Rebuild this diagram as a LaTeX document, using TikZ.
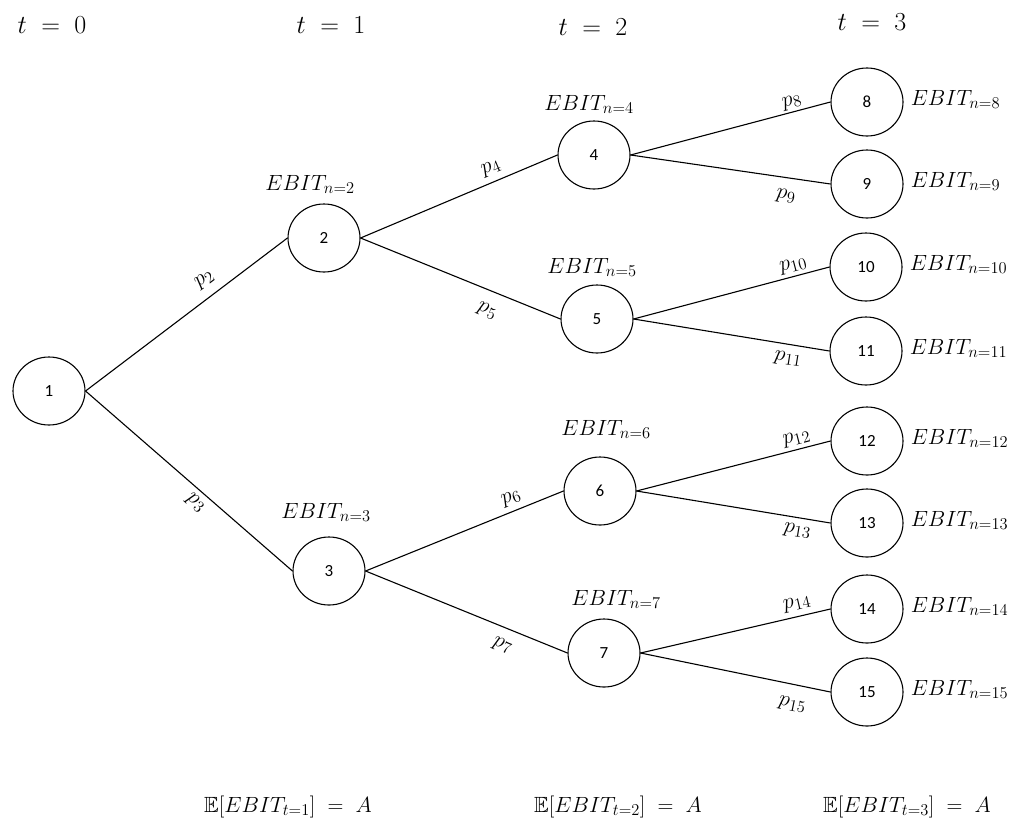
\RequirePackage{fix-cm}
\documentclass[tikz,border=0pt]{standalone}
\usepackage{amssymb}
\usepackage{fontspec}
\newfontfamily\numfont{Carlito}
\DeclareMathSizes{22}{22}{16.5}{12}
\DeclareMathSizes{26}{26}{19}{14}
\usetikzlibrary{shapes.geometric}
\tikzset{
  st/.style={draw, ellipse, line width=1.1pt, minimum width=72pt, minimum height=68pt,
    inner sep=0pt, font=\numfont\fontsize{17}{20}\selectfont},
  br/.style={line width=1.1pt},
  pl/.style={sloped, font=\fontsize{22}{26}\selectfont, inner sep=2pt},
  eb/.style={font=\fontsize{22}{26}\selectfont, inner sep=0pt, anchor=base},
  ebr/.style={font=\fontsize{22}{26}\selectfont, inner sep=0pt, anchor=base west},
  tl/.style={font=\fontsize{26}{30}\selectfont, inner sep=0pt, anchor=base},
  bl/.style={font=\fontsize{22}{26}\selectfont, inner sep=0pt, anchor=base},
}
\begin{document}
\begin{tikzpicture}[x=1pt,y=-1pt]
\useasboundingbox (0,0) rectangle (1033,825);
% period labels
\node[tl] (t0) at (52,33) {$t\;=\;0$};
\node[tl] (t1) at (331,33) {$t\;=\;1$};
\node[tl] (t2) at (593,35) {$t\;=\;2$};
\node[tl] (t3) at (872,30) {$t\;=\;3$};
% states
\node[st] (n1) at (49,391) {1};
\node[st] (n2) at (324,238) {2};
\node[st] (n3) at (329,571) {3};
\node[st] (n4) at (594,155) {4};
\node[st] (n5) at (597,319) {5};
\node[st] (n6) at (600,491) {6};
\node[st] (n7) at (604,653) {7};
\node[st] (n8) at (867,102) {8};
\node[st] (n9) at (867,184) {9};
\node[st] (n10) at (866,267) {10};
\node[st] (n11) at (866,351) {11};
\node[st] (n12) at (867,441) {12};
\node[st] (n13) at (867,523) {13};
\node[st] (n14) at (867,609) {14};
\node[st] (n15) at (867,692) {15};
% EBIT labels above
\node[eb] (e2) at (310,190) {$EBIT_{n=2}$};
\node[eb] (e3) at (326,518) {$EBIT_{n=3}$};
\node[eb] (e4) at (589,110) {$EBIT_{n=4}$};
\node[eb] (e5) at (592,273) {$EBIT_{n=5}$};
\node[eb] (e6) at (606,435) {$EBIT_{n=6}$};
\node[eb] (e7) at (616,605) {$EBIT_{n=7}$};
% EBIT labels right
\foreach \k in {8,...,15}{
  \node[ebr] (e\k) at ([xshift=7pt,yshift=-3pt]n\k.east) {$EBIT_{n=\k}$};
}
% branches
\draw[br] (n1.east) -- node[pl, pos=0.64, above=7pt] {$p_2$} (n2.west);
\draw[br] (n1.east) -- node[pl, pos=0.57, below=3pt] {$p_3$} (n3.west);
\draw[br] (n2.east) -- node[pl, pos=0.69, above=4pt] {$p_4$} (n4.west);
\draw[br] (n2.east) -- node[pl, pos=0.67, below=11pt] {$p_5$} (n5.west);
\draw[br] (n3.east) -- node[pl, pos=0.76, above=3pt] {$p_6$} (n6.west);
\draw[br] (n3.east) -- node[pl, pos=0.71, below=8pt] {$p_7$} (n7.west);
\draw[br] (n4.east) -- node[pl, pos=0.82, above=0pt] {$p_8$} (n8.west);
\draw[br] (n4.east) -- node[pl, pos=0.79, below=9pt] {$p_9$} (n9.west);
\draw[br] (n5.east) -- node[pl, pos=0.83, above=1pt] {$p_{10}$} (n10.west);
\draw[br] (n5.east) -- node[pl, pos=0.80, below=5pt] {$p_{11}$} (n11.west);
\draw[br] (n6.east) -- node[pl, pos=0.84, above=1pt] {$p_{12}$} (n12.west);
\draw[br] (n6.east) -- node[pl, pos=0.84, below=4pt] {$p_{13}$} (n13.west);
\draw[br] (n7.east) -- node[pl, pos=0.84, above=3pt] {$p_{14}$} (n14.west);
\draw[br] (n7.east) -- node[pl, pos=0.82, below=11pt] {$p_{15}$} (n15.west);
% expectations
\node[bl] (x1) at (288,812) {$\mathbb{E}[EBIT_{t=1}]\;=\;A$};
\node[bl] (x2) at (618,812) {$\mathbb{E}[EBIT_{t=2}]\;=\;A$};
\node[bl] (x3) at (907,812) {$\mathbb{E}[EBIT_{t=3}]\;=\;A$};
\end{tikzpicture}
\end{document}
